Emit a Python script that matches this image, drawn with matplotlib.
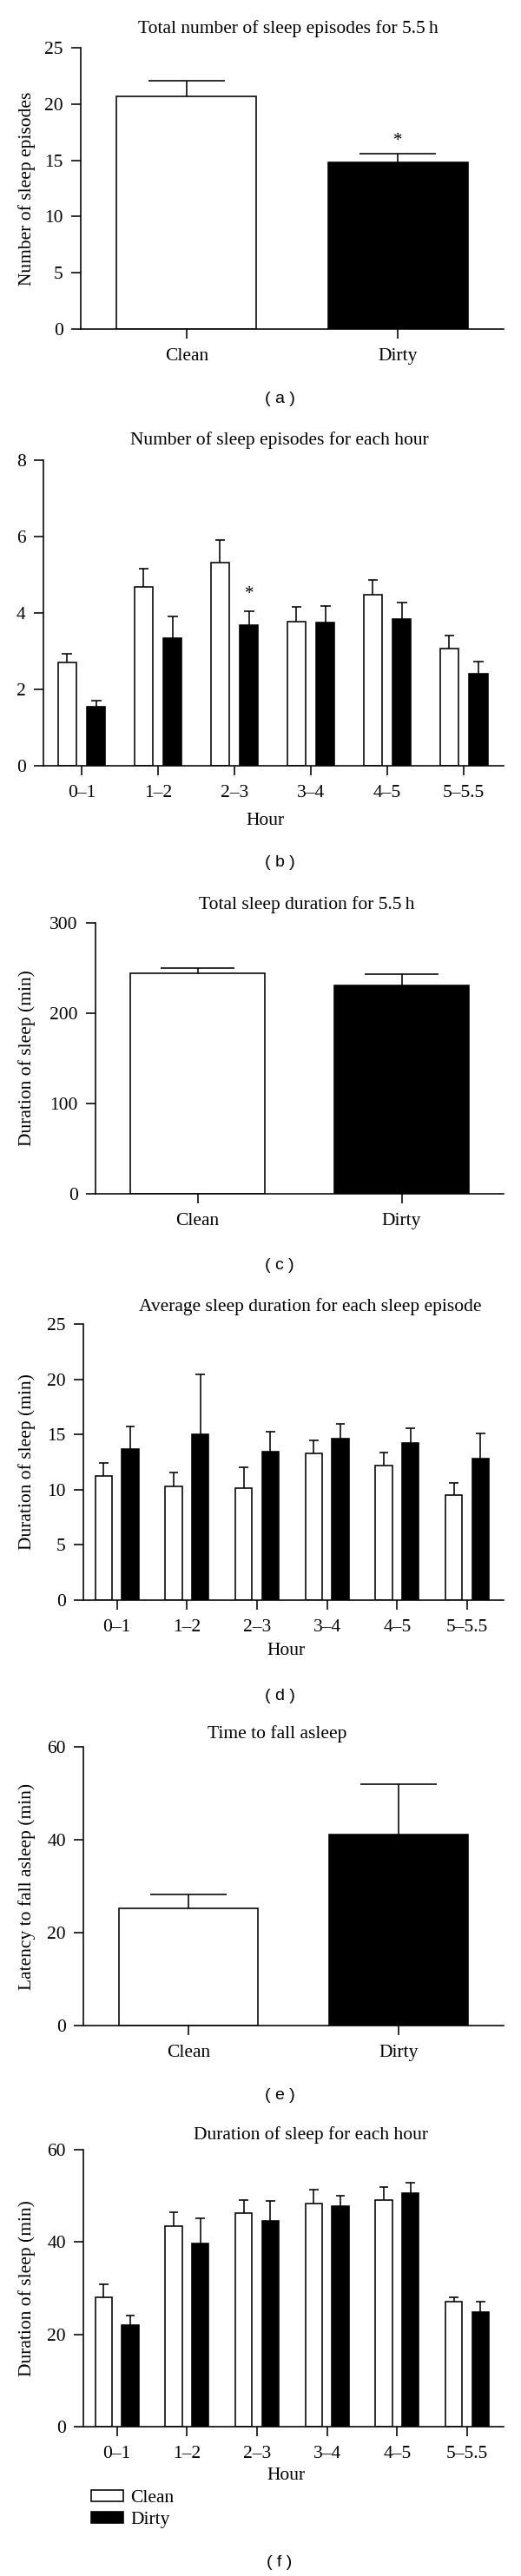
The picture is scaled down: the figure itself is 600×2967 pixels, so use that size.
import matplotlib
matplotlib.use("Agg")
import matplotlib.pyplot as plt
import numpy as np
from matplotlib.transforms import blended_transform_factory

# ---------------- data ----------------
groups = ["Clean", "Dirty"]
hours = ["0\u20131", "1\u20132", "2\u20133", "3\u20134", "4\u20135", "5\u20135.5"]

# (a) Total number of sleep episodes for 5.5 h
a_mean = [20.7, 14.85]
a_sem = [1.35, 0.75]

# (b) Number of sleep episodes for each hour
b_clean = [2.70, 4.69, 5.31, 3.78, 4.48, 3.07]
b_clean_sem = [0.24, 0.48, 0.59, 0.38, 0.38, 0.35]
b_dirty = [1.55, 3.33, 3.68, 3.76, 3.85, 2.42]
b_dirty_sem = [0.15, 0.57, 0.36, 0.43, 0.43, 0.30]

# (c) Total sleep duration for 5.5 h
c_mean = [243.9, 231.1]
c_sem = [6.4, 11.8]

# (d) Average sleep duration for each sleep episode
d_clean = [11.28, 10.31, 10.13, 13.27, 12.20, 9.50]
d_clean_sem = [1.18, 1.21, 1.86, 1.18, 1.18, 1.15]
d_dirty = [13.69, 15.03, 13.48, 14.61, 14.24, 12.85]
d_dirty_sem = [2.05, 5.43, 1.79, 1.37, 1.34, 2.26]

# (e) Time to fall asleep
e_mean = [25.2, 41.1]
e_sem = [3.0, 10.8]

# (f) Duration of sleep for each hour
f_clean = [28.0, 43.5, 46.2, 48.4, 49.1, 27.0]
f_clean_sem = [2.9, 2.9, 2.9, 2.9, 2.8, 1.1]
f_dirty = [22.0, 39.7, 44.6, 47.8, 50.6, 24.8]
f_dirty_sem = [2.1, 5.4, 4.3, 2.2, 2.2, 2.2]

# ---------------- style ----------------
plt.rcParams['font.family'] = ['Liberation Serif', 'DejaVu Serif']
FS = 15.5
LW = 1.15

W, H = 600, 2967
fig = plt.figure(figsize=(W / 100, H / 100), dpi=100)
fig.patch.set_facecolor('white')


def add_axes(L, R, T, B):
    ax = fig.add_axes([L / W, 1 - B / H, (R - L) / W, (B - T) / H])
    ax._px = (L, R, T, B)
    for s in ('top', 'right'):
        ax.spines[s].set_visible(False)
    for s in ('left', 'bottom'):
        ax.spines[s].set_linewidth(LW)
    ax.tick_params(axis='both', direction='out', length=8, width=LW,
                   labelsize=FS, color='black')
    ax.tick_params(axis='x', pad=7.5)
    ax.tick_params(axis='y', pad=6.5)
    return ax


def title(ax, text, xc, yc):
    L, R, T, B = ax._px
    ax.set_title(text, fontsize=FS, x=(xc - L) / (R - L), y=(B - yc) / (B - T),
                 va='center', ha='center', pad=0)


def ylabel(ax, text, xpx=41):
    L, R, T, B = ax._px
    ax.set_ylabel(text, fontsize=FS)
    ax.yaxis.set_label_coords((xpx - L) / (R - L), 0.5)


def xlabel(ax, text, xc, ytop):
    L, R, T, B = ax._px
    ax.set_xlabel(text, fontsize=FS)
    ax.xaxis.set_label_coords((xc - L) / (R - L), (B - ytop) / (B - T))


def caption(text, yc, xc=322):
    fig.text(xc / W, 1 - yc / H, text, ha='center', va='center',
             fontsize=14, family=['Liberation Sans', 'DejaVu Sans'])


def bars_with_err(ax, x, means, sems, width, color):
    x = np.asarray(x, dtype=float)
    means = np.asarray(means)
    sems = np.asarray(sems)
    cont = ax.bar(x, means, width=width, color=color, edgecolor='black',
                  linewidth=LW, zorder=2)
    ax.vlines(x, means, means + sems, colors='black', linewidth=LW, zorder=1)
    cap = width * 0.55
    ax.hlines(means + sems, x - cap / 2, x + cap / 2, colors='black',
              linewidth=LW, zorder=1)
    return cont


def two_bar(ax, means, sems, ylim, yticks):
    x = np.arange(len(groups))
    bars_with_err(ax, x[:1], means[:1], sems[:1], 0.66, 'white')
    bars_with_err(ax, x[1:], means[1:], sems[1:], 0.66, 'black')
    ax.set_xlim(-0.5, 1.5)
    ax.set_ylim(*ylim)
    ax.set_yticks(yticks)
    ax.set_xticks(x)
    ax.set_xticklabels(groups)


def grouped(ax, clean, csem, dirty, dsem, ylim, yticks, xlim):
    x = np.arange(len(hours))
    c = bars_with_err(ax, x - 0.19, clean, csem, 0.24, 'white')
    d = bars_with_err(ax, x + 0.19, dirty, dsem, 0.24, 'black')
    ax.set_xlim(*xlim)
    ax.set_ylim(*ylim)
    ax.set_yticks(yticks)
    ax.set_xticks(x)
    ax.set_xticklabels(hours)
    return c, d


# ---------------- (a) ----------------
ax_a = add_axes(93, 580, 55, 379)
two_bar(ax_a, a_mean, a_sem, (0, 25), [0, 5, 10, 15, 20, 25])
title(ax_a, "Total number of sleep episodes for 5.5\u2009h", 332, 33)
ylabel(ax_a, "Number of sleep episodes")
ax_a.annotate("*", (1, a_mean[1] + a_sem[1]), xytext=(0, 10),
              textcoords='offset points', ha='center', va='center', fontsize=15)
caption("( a )", 460)

# ---------------- (b) ----------------
ax_b = add_axes(50, 580, 530, 882)
grouped(ax_b, b_clean, b_clean_sem, b_dirty, b_dirty_sem, (0, 8), [0, 2, 4, 6, 8],
        (-0.5, 5.52))
title(ax_b, "Number of sleep episodes for each hour", 322, 507)
xlabel(ax_b, "Hour", 306, 936)
ax_b.annotate("*", (2 + 0.19, b_dirty[2] + b_dirty_sem[2]), xytext=(0, 14),
              textcoords='offset points', ha='center', va='center', fontsize=15)
caption("( b )", 994)

# ---------------- (c) ----------------
ax_c = add_axes(110, 580, 1063, 1375)
two_bar(ax_c, c_mean, c_sem, (0, 300), [0, 100, 200, 300])
title(ax_c, "Total sleep duration for 5.5\u2009h", 353, 1042)
ylabel(ax_c, "Duration of sleep (min)")
caption("( c )", 1458)

# ---------------- (d) ----------------
ax_d = add_axes(96, 580, 1525, 1843)
grouped(ax_d, d_clean, d_clean_sem, d_dirty, d_dirty_sem, (0, 25),
        [0, 5, 10, 15, 20, 25], (-0.48, 5.52))
title(ax_d, "Average sleep duration for each sleep episode", 357, 1505)
ylabel(ax_d, "Duration of sleep (min)")
xlabel(ax_d, "Hour", 329, 1892)
caption("( d )", 1953)

# ---------------- (e) ----------------
ax_e = add_axes(96, 580, 2012, 2333)
two_bar(ax_e, e_mean, e_sem, (0, 60), [0, 20, 40, 60])
title(ax_e, "Time to fall asleep", 319, 1997)
ylabel(ax_e, "Latency to fall asleep (min)")
caption("( e )", 2413)

# ---------------- (f) ----------------
ax_f = add_axes(96, 580, 2476, 2795)
hc, hd = grouped(ax_f, f_clean, f_clean_sem, f_dirty, f_dirty_sem, (0, 60),
                 [0, 20, 40, 60], (-0.48, 5.52))
title(ax_f, "Duration of sleep for each hour", 358, 2459)
ylabel(ax_f, "Duration of sleep (min)")
xlabel(ax_f, "Hour", 329, 2842)
fig.legend([hc, hd], groups, loc='upper left',
           bbox_to_anchor=(105 / W, 1 - 2868 / H), frameon=False,
           borderpad=0, borderaxespad=0, handlelength=1.72, handleheight=0.56,
           handletextpad=0.37, labelspacing=0.25, fontsize=FS)
caption("( f )", 2952)

fig.savefig("out.png", dpi=100, facecolor='white')
